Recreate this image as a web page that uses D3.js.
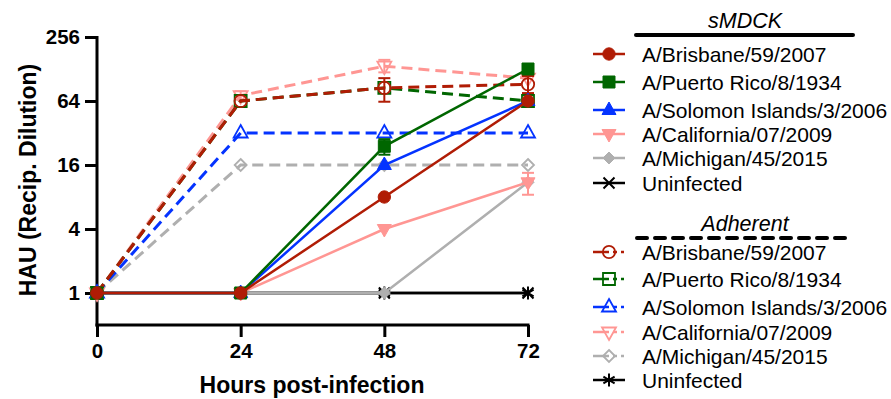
<!DOCTYPE html>
<html><head><meta charset="utf-8">
<script src="https://cdn.jsdelivr.net/npm/d3@7"></script>
<style>
html,body{margin:0;padding:0;background:#fff;}
svg text{font-family:"Liberation Sans",Arial,Helvetica,sans-serif;}
</style></head>
<body>
<svg id="chart" width="891" height="399"></svg>
<script>
// ---------- data ----------
const hours = [0, 24, 48, 72];
const yTicks = [1, 4, 16, 64, 256];
const strains = ["A/Brisbane/59/2007", "A/Puerto Rico/8/1934", "A/Solomon Islands/3/2006", "A/California/07/2009", "A/Michigan/45/2015", "Uninfected"];
const colors = ["#B01C05", "#006600", "#0433FF", "#FF9693", "#AFAFAF", "#000000"];
const smdckShapes = ["circle", "square", "triangle", "triangleDown", "diamond", "x"];
const adherentShapes = ["circle", "square", "triangle", "triangleDown", "diamond", "asterisk"];

// sMDCK (solid lines, filled symbols)
const smdckBrisbane = [1, 1, 8, 64];
const smdckPuertoRico = [1, 1, 24, 128];
const smdckSolomon = [1, 1, 16, 64];
const smdckCalifornia = [1, 1, 4, 11];
const smdckMichigan = [1, 1, 1, 11];
const smdckUninfected = [1, 1, 1, 1];
// error bar limits (lower / upper), null = none
const smdckPuertoRicoErrLo = [null, null, 20, null];
const smdckPuertoRicoErrHi = [null, null, 28, null];
const smdckCaliforniaErrLo = [null, null, null, 8.4];
const smdckCaliforniaErrHi = [null, null, null, 13.5];

// Adherent (dashed lines, open symbols)
const adhBrisbane = [1, 64, 85, 92];
const adhPuertoRico = [1, 64, 85, 64];
const adhSolomon = [1, 32, 32, 32];
const adhCalifornia = [1, 72, 136, 105];
const adhMichigan = [1, 16, 16, 16];
const adhUninfected = [1, 1, 1, 1];
const adhBrisbaneErrLo = [null, null, 63, 76];
const adhBrisbaneErrHi = [null, null, 105, 110];
const adhCaliforniaErrLo = [null, 66, 119, null];
const adhCaliforniaErrHi = [null, 79, 156, null];

const smdckValues = [smdckBrisbane, smdckPuertoRico, smdckSolomon, smdckCalifornia, smdckMichigan, smdckUninfected];
const adhValues = [adhBrisbane, adhPuertoRico, adhSolomon, adhCalifornia, adhMichigan, adhUninfected];
const smdckErr = [null, [smdckPuertoRicoErrLo, smdckPuertoRicoErrHi], null, [smdckCaliforniaErrLo, smdckCaliforniaErrHi], null, null];
const adhErr = [[adhBrisbaneErrLo, adhBrisbaneErrHi], null, null, [adhCaliforniaErrLo, adhCaliforniaErrHi], null, null];
const adhDashed = [true, true, true, true, true, false];

// ---------- layout ----------
const svg = d3.select("#chart");
const x = d3.scaleLinear().domain([0, 72]).range([97, 528]);
const y = d3.scaleLog().base(2).domain([0.5, 256]).range([325, 37]);

function markerPath(shape) {
  switch (shape) {
    case "circle": return d3.symbol(d3.symbolCircle, 120)();
    case "square": return "M-6,-6H6V6H-6Z";
    case "triangle": return "M0,-8L7,4.5H-7Z";
    case "triangleDown": return "M0,8L7,-4.5H-7Z";
    case "diamond": return "M0,-6L6,0L0,6L-6,0Z";
    case "x": return "M-5.5,-5.5L5.5,5.5M-5.5,5.5L5.5,-5.5";
    case "asterisk": return "M0,-6.5V6.5M-5.6,-3.3L5.6,3.3M-5.6,3.3L5.6,-3.3";
  }
}

function drawMarker(g, shape, color, filled, cx, cy) {
  const lineOnly = shape === "x" || shape === "asterisk";
  g.append("path")
    .attr("d", markerPath(shape))
    .attr("transform", `translate(${cx},${cy})`)
    .attr("fill", lineOnly ? "none" : (filled ? color : "none"))
    .attr("stroke", color)
    .attr("stroke-width", lineOnly ? 2 : (filled ? 1 : 1.8));
}

// ---------- axes ----------
const yAxis = svg.append("g").attr("transform", "translate(97,0)")
  .call(d3.axisLeft(y).tickValues(yTicks).tickFormat(d3.format("d")).tickSize(12).tickSizeOuter(0).tickPadding(5));
const xAxis = svg.append("g").attr("transform", "translate(0,325)")
  .call(d3.axisBottom(x).tickValues(hours).tickSize(12).tickSizeOuter(0).tickPadding(6));
[yAxis, xAxis].forEach(a => {
  a.selectAll("path,line").attr("stroke", "#000").attr("stroke-width", 3);
  a.selectAll("text").attr("fill", "#000").style("font-size", "20.5px").style("font-weight", "bold");
});
yAxis.select("path.domain").attr("d", "M0,36V326.5");
xAxis.select("path.domain").attr("d", "M95.5,0H529.5");

svg.append("text").attr("x", 312).attr("y", 393).attr("text-anchor", "middle")
  .style("font-size", "23px").style("font-weight", "bold").text("Hours post-infection");
svg.append("text").attr("transform", "translate(36,180) rotate(-90)").attr("text-anchor", "middle")
  .style("font-size", "23px").style("font-weight", "bold").text("HAU (Recip. Dilution)");

// ---------- series ----------
const line = d3.line().x((d, i) => x(hours[i])).y(d => y(d));
const plot = svg.append("g");

function drawGroup(values, errs, shapes, filled, dashedFlags) {
  for (let k = values.length - 1; k >= 0; k--) {
    const g = plot.append("g");
    const col = colors[k];
    const dashed = dashedFlags[k];
    g.append("path").datum(values[k]).attr("d", line)
      .attr("fill", "none").attr("stroke", col)
      .attr("stroke-width", dashed ? 3 : 2.5)
      .attr("stroke-dasharray", dashed ? "11,6" : null);
    if (errs[k]) {
      const [lo, hi] = errs[k];
      hours.forEach((h, i) => {
        if (lo[i] == null) return;
        const cx = x(h);
        g.append("line").attr("x1", cx).attr("x2", cx).attr("y1", y(lo[i])).attr("y2", y(hi[i]))
          .attr("stroke", col).attr("stroke-width", 2);
        [lo[i], hi[i]].forEach(v => g.append("line").attr("x1", cx - 6).attr("x2", cx + 6)
          .attr("y1", y(v)).attr("y2", y(v)).attr("stroke", col).attr("stroke-width", 2));
      });
    }
    values[k].forEach((v, i) => drawMarker(g, shapes[k], col, filled, x(hours[i]), y(v)));
  }
}
drawGroup(adhValues, adhErr, adherentShapes, false, adhDashed);
drawGroup(smdckValues, smdckErr, smdckShapes, true, [false, false, false, false, false, false]);

// ---------- legend ----------
const leg = svg.append("g");
const smdckRows = [54, 82, 110, 134, 158, 183];
const adhRows = [252, 279, 307, 332, 356, 380];

leg.append("text").attr("x", 745).attr("y", 28).attr("text-anchor", "middle")
  .style("font-size", "21.5px").style("font-style", "italic").text("sMDCK");
leg.append("line").attr("x1", 636).attr("x2", 853).attr("y1", 35).attr("y2", 35)
  .attr("stroke", "#000").attr("stroke-width", 4).attr("stroke-linecap", "round");
leg.append("text").attr("x", 745).attr("y", 231).attr("text-anchor", "middle")
  .style("font-size", "21.5px").style("font-style", "italic").text("Adherent");
leg.append("line").attr("x1", 637).attr("x2", 853).attr("y1", 238).attr("y2", 238)
  .attr("stroke", "#000").attr("stroke-width", 4).attr("stroke-linecap", "round")
  .attr("stroke-dasharray", "10,8");

strains.forEach((name, k) => {
  const col = colors[k];
  const r1 = smdckRows[k];
  leg.append("line").attr("x1", 593).attr("x2", 625).attr("y1", r1).attr("y2", r1)
    .attr("stroke", col).attr("stroke-width", 2.5);
  drawMarker(leg, smdckShapes[k], col, true, 609, r1);
  leg.append("text").attr("x", 642).attr("y", r1 + 7.5).style("font-size", "21px").text(name);

  const r2 = adhRows[k];
  leg.append("line").attr("x1", 593).attr("x2", 625).attr("y1", r2).attr("y2", r2)
    .attr("stroke", col).attr("stroke-width", 2.5)
    .attr("stroke-dasharray", adhDashed[k] ? "16,4,4,4,3" : null);
  drawMarker(leg, adherentShapes[k], col, false, 609, r2);
  leg.append("text").attr("x", 642).attr("y", r2 + 7.5).style("font-size", "21px").text(name);
});
</script>
</body></html>
